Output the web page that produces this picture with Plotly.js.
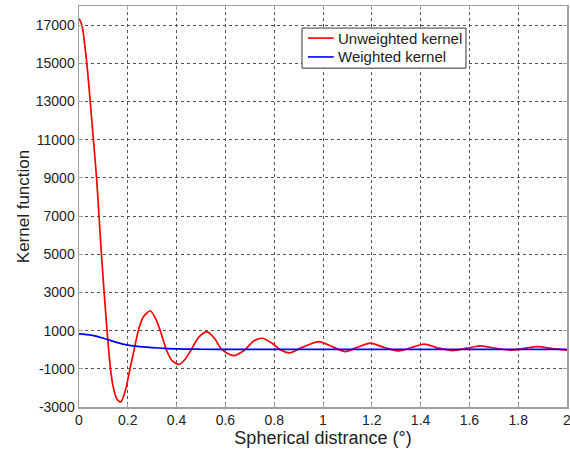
<!DOCTYPE html>
<html>
<head>
<meta charset="utf-8">
<script src="https://cdn.plot.ly/plotly-3.0.1.min.js"></script>
<style>
  html, body { margin: 0; padding: 0; background: #ffffff; }
  #chart { width: 570px; height: 449px; }
</style>
</head>
<body>
<div id="chart"></div>
<script>
// Spherical distance (degrees) and kernel values
const distUnweighted = [0, 0.012, 0.032, 0.046, 0.059, 0.072, 0.082, 0.092, 0.103, 0.115, 0.129, 0.141, 0.156, 0.171, 0.19,
  0.209, 0.226, 0.243, 0.263, 0.292, 0.315, 0.333, 0.358, 0.38, 0.41, 0.435, 0.46, 0.49, 0.524, 0.555,
  0.586, 0.634, 0.68, 0.715, 0.75, 0.79, 0.825, 0.866, 0.92, 0.983, 1.04, 1.092, 1.14, 1.195, 1.25,
  1.311, 1.36, 1.414, 1.47, 1.53, 1.59, 1.647, 1.71, 1.77, 1.82, 1.88, 1.94, 2.0];
const kernelUnweighted = [17350, 17000, 15000, 13000, 11000, 9000, 7000, 5000, 3000, 1000, -1000, -2000, -2600, -2740, -2150,
  -1000, 0, 1000, 1700, 2040, 1600, 1000, 0, -550, -775, -500, 0, 650, 950, 600,
  0, -310, 0, 450, 600, 350, 0, -160, 150, 425, 150, -100, 120, 340, 120,
  -65, 100, 290, 100, -45, 80, 200, 70, -25, 60, 165, 60, -25];

const distWeighted = [0, 0.05, 0.1, 0.15, 0.2, 0.25, 0.3, 0.35, 0.4, 0.5, 0.6, 0.8, 1.0, 1.2, 1.4, 1.6, 1.8, 2.0];
const kernelWeighted = [830, 760, 600, 400, 240, 160, 110, 70, 40, 25, 20, 15, 15, 15, 20, 20, 20, 20];

const seriesNames = ['Unweighted kernel', 'Weighted kernel'];
const seriesColors = ['#ff0000', '#0000ff'];

const xTicks = [0, 0.2, 0.4, 0.6, 0.8, 1, 1.2, 1.4, 1.6, 1.8, 2];
const xTickText = ['0', '0.2', '0.4', '0.6', '0.8', '1', '1.2', '1.4', '1.6', '1.8', '2'];
const yTicks = [-3000, -1000, 1000, 3000, 5000, 7000, 9000, 11000, 13000, 15000, 17000];
const yTickText = ['-3000', '-1000', '1000', '3000', '5000', '7000', '9000', '11000', '13000', '15000', '17000'];

const font = 'Liberation Sans, Arial, sans-serif';

const traces = [
  {
    x: distUnweighted, y: kernelUnweighted, type: 'scatter', mode: 'lines',
    name: seriesNames[0],
    line: { color: seriesColors[0], width: 1.7, shape: 'spline', smoothing: 0.7 }
  },
  {
    x: distWeighted, y: kernelWeighted, type: 'scatter', mode: 'lines',
    name: seriesNames[1],
    line: { color: seriesColors[1], width: 1.7, shape: 'spline', smoothing: 0.8 }
  }
];

// Boxed legend in the upper middle of the plot (paper coordinates)
const legendBox = { x0: 0.457, x1: 0.793, y0: 0.845, y1: 0.945 };
const legendRows = [0.92, 0.873];
const shapes = [
  { type: 'rect', xref: 'paper', yref: 'paper', x0: legendBox.x0, x1: legendBox.x1, y0: legendBox.y0, y1: legendBox.y1,
    line: { color: '#333333', width: 1 }, fillcolor: '#ffffff', layer: 'above' }
];
const annotations = [];
seriesNames.forEach(function (name, i) {
  shapes.push({ type: 'line', xref: 'paper', yref: 'paper', x0: 0.469, x1: 0.522, y0: legendRows[i], y1: legendRows[i],
    line: { color: seriesColors[i], width: 1.6 }, layer: 'above' });
  annotations.push({ xref: 'paper', yref: 'paper', x: 0.527, y: legendRows[i], xanchor: 'left', yanchor: 'middle',
    text: name, showarrow: false, font: { family: font, size: 15, color: '#222222' } });
});

const axisCommon = {
  showline: true, mirror: 'ticks', linecolor: '#a0a0a0', linewidth: 1.5,
  ticks: 'inside', ticklen: 4, tickcolor: '#a0a0a0',
  showgrid: true, gridcolor: '#555555', griddash: 'dot', gridwidth: 1,
  zeroline: false, ticklabeloverflow: 'allow',
  tickfont: { family: font, size: 14, color: '#222222' }
};

const layout = {
  width: 570, height: 449,
  margin: { l: 79, r: 3, t: 6, b: 42 },
  paper_bgcolor: '#ffffff', plot_bgcolor: '#ffffff',
  showlegend: false,
  shapes: shapes,
  annotations: annotations,
  xaxis: Object.assign({}, axisCommon, {
    range: [0, 2], tickvals: xTicks, ticktext: xTickText,
    title: { text: 'Spherical distrance (°)', font: { family: font, size: 18, color: '#222222' }, standoff: 4 }
  }),
  yaxis: Object.assign({}, axisCommon, {
    range: [-3000, 18000], tickvals: yTicks, ticktext: yTickText,
    title: { text: 'Kernel function', font: { family: font, size: 17, color: '#222222' }, standoff: 2 }
  })
};

Plotly.newPlot('chart', traces, layout, { staticPlot: true, displayModeBar: false });
</script>
</body>
</html>
